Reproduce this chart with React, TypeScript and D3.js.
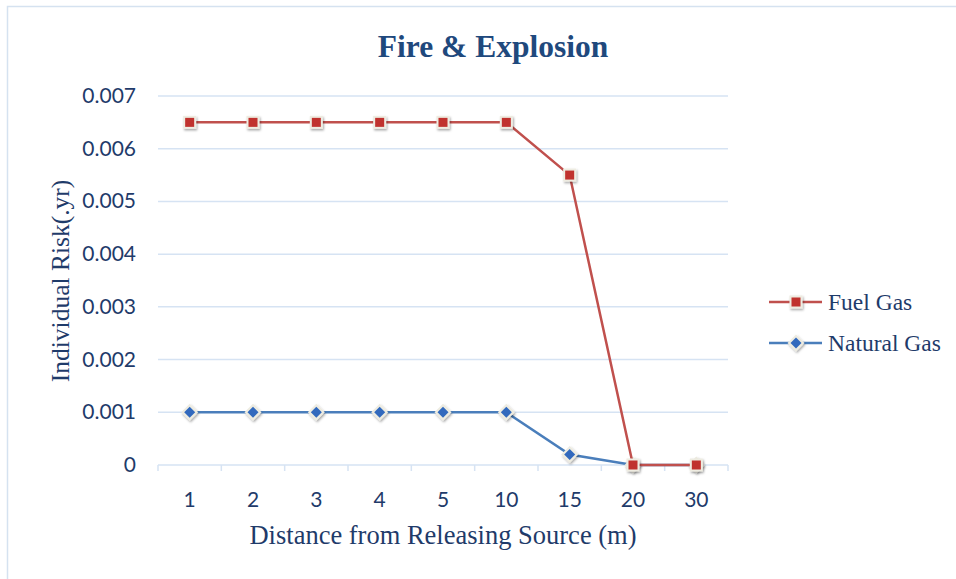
import React from "react";
import * as d3 from "d3";

const categories = ["1", "2", "3", "4", "5", "10", "15", "20", "30"];
const fuelGas = [0.0065, 0.0065, 0.0065, 0.0065, 0.0065, 0.0065, 0.0055, 0, 0];
const naturalGas = [0.001, 0.001, 0.001, 0.001, 0.001, 0.001, 0.0002, 0, 0];
const yTicks = [0, 0.001, 0.002, 0.003, 0.004, 0.005, 0.006, 0.007];

const W = 956, H = 579;
const left = 158, right = 728, top = 96, bottom = 465;

export default function App() {
  const x = d3.scaleBand<string>().domain(categories).range([left, right]);
  const y = d3.scaleLinear().domain([0, 0.007]).range([bottom, top]);
  const cx = (c: string) => (x(c) as number) + x.bandwidth() / 2;
  const line = d3.line<number>().x((_, i) => cx(categories[i])).y((d) => y(d));
  const red = "#C0504D", redFill = "#C0302E";
  const blue = "#4A7EBB", blueFill = "#3169BD";
  const textCol = "#1F3B6A";
  const fmt = (v: number) => (v === 0 ? "0" : d3.format(".3f")(v));
  const serif = "Liberation Serif, Times New Roman, serif";
  const sans = "Lato, Carlito, sans-serif";

  const square = (px: number, py: number, k: string | number) => (
    <g key={k} filter="url(#sh)">
      <rect x={px - 6.5} y={py - 6.5} width={13} height={13} fill="#EEECE1" />
      <rect x={px - 4.5} y={py - 4.5} width={9} height={9} fill={redFill} />
    </g>
  );
  const diamond = (px: number, py: number, k: string | number) => (
    <g key={k} filter="url(#sh)">
      <path d={`M${px},${py - 8.5}L${px + 8.5},${py}L${px},${py + 8.5}L${px - 8.5},${py}Z`} fill="#EEECE1" />
      <path d={`M${px},${py - 5.5}L${px + 5.5},${py}L${px},${py + 5.5}L${px - 5.5},${py}Z`} fill={blueFill} />
    </g>
  );

  return (
    <svg width={W} height={H} style={{ position: "absolute", left: 0, top: 0, background: "#fff" }}>
      <defs>
        <filter id="sh" x="-50%" y="-50%" width="200%" height="200%">
          <feDropShadow dx="1" dy="1.5" stdDeviation="1.2" floodColor="#000" floodOpacity="0.35" />
        </filter>
      </defs>
      <rect x={7.5} y={6.5} width={970} height={600} fill="#fff" stroke="#D5E2F0" strokeWidth={1.5} />
      <text x={493} y={57} textAnchor="middle" fontFamily={serif} fontWeight="bold" fontSize={31.5} fill="#1F497D">
        Fire &amp; Explosion
      </text>
      {yTicks.map((t) => (
        <g key={t}>
          <line x1={left} x2={right} y1={y(t)} y2={y(t)} stroke="#D6E3F3" strokeWidth={1.5} />
          <text x={136} y={y(t) + 7} textAnchor="end" fontFamily={sans} fontSize={21} fill={textCol}>
            {fmt(t)}
          </text>
        </g>
      ))}
      {[...categories.map((c) => x(c) as number), right].map((px, i) => (
        <line key={i} x1={px} x2={px} y1={bottom} y2={bottom + 6} stroke="#D6E3F3" strokeWidth={1.5} />
      ))}
      {categories.map((c) => (
        <text key={c} x={cx(c)} y={bottom + 42} textAnchor="middle" fontFamily={sans} fontSize={21} fill={textCol}>
          {c}
        </text>
      ))}
      <text x={443} y={544} textAnchor="middle" fontFamily={serif} fontSize={26.5} fill={textCol}>
        Distance from Releasing Source (m)
      </text>
      <text transform="translate(69,281) rotate(-90)" textAnchor="middle" fontFamily={serif} fontSize={25.5} fill={textCol}>
        Individual Risk(.yr)
      </text>
      <path d={line(naturalGas) || ""} fill="none" stroke={blue} strokeWidth={2.5} />
      {naturalGas.map((v, i) => diamond(cx(categories[i]), y(v), "n" + i))}
      <path d={line(fuelGas) || ""} fill="none" stroke={red} strokeWidth={2.5} />
      {fuelGas.map((v, i) => square(cx(categories[i]), y(v), "f" + i))}
      <g>
        <line x1={769} x2={822} y1={302} y2={302} stroke={red} strokeWidth={2.5} />
        {square(796, 302, "lf")}
        <text x={828} y={310} fontFamily={serif} fontSize={23.5} fill={textCol}>Fuel Gas</text>
        <line x1={769} x2={822} y1={343} y2={343} stroke={blue} strokeWidth={2.5} />
        {diamond(796, 343, "ln")}
        <text x={828} y={351} fontFamily={serif} fontSize={23.5} fill={textCol}>Natural Gas</text>
      </g>
    </svg>
  );
}
